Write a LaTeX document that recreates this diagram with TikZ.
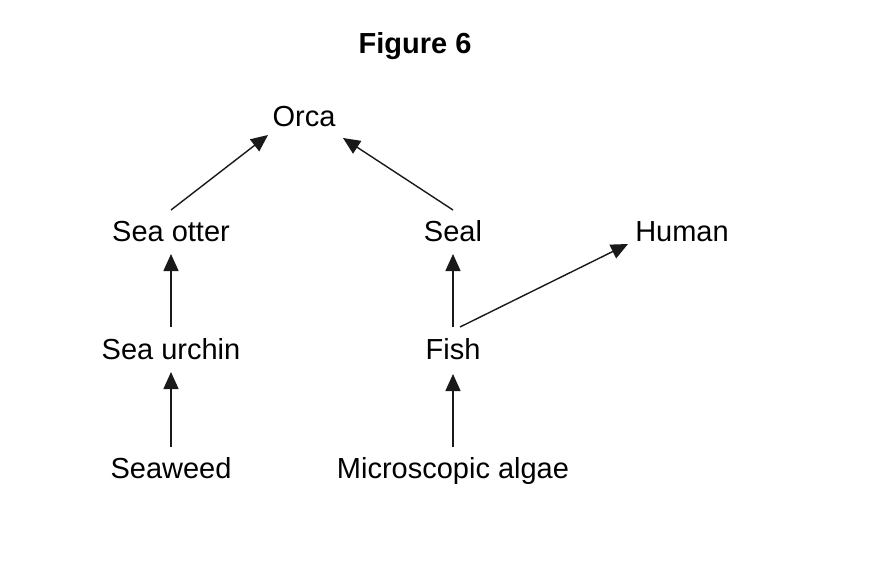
\documentclass[tikz,border=0pt]{standalone}
\usepackage{fontspec}
\setmainfont{Liberation Sans}
\usetikzlibrary{arrows.meta,calc}
\begin{document}
\begin{tikzpicture}[x=1pt,y=-1pt,
  lbl/.style={anchor=base,inner sep=0pt,font=\fontsize{29}{34}\selectfont},
  ttl/.style={anchor=base,inner sep=0pt,font=\fontsize{29}{34}\selectfont\bfseries},
  arr/.style={-{Triangle[length=17pt,width=15pt]},line width=1.4pt,black!90}]
\useasboundingbox (0,0) rectangle (876,586);
\node[ttl] (title) at (415,54) {Figure 6};
\node[lbl] (orca) at (304,126) {Orca};
\node[lbl] (otter) at (171,241) {Sea otter};
\node[lbl] (seal) at (453,241) {Seal};
\node[lbl] (human) at (682,241) {Human};
\node[lbl] (urchin) at (171,359) {Sea urchin};
\node[lbl] (fish) at (453,359) {Fish};
\node[lbl] (seaweed) at (171,478) {Seaweed};
\node[lbl] (algae) at (453,478) {Microscopic algae};
\draw[arr] ($(otter.base)+(0,-31)$) -- ($(orca.base)+(-36,9)$);
\draw[arr] ($(seal.base)+(0,-31)$) -- ($(orca.base)+(39,12)$);
\draw[arr] ($(urchin.base)+(0,-32)$) -- ($(otter.base)+(0,13)$);
\draw[arr] ($(fish.base)+(0,-32)$) -- ($(seal.base)+(0,13)$);
\draw[arr] ($(fish.base)+(7,-32)$) -- ($(human.base)+(-54,3)$);
\draw[arr] ($(seaweed.base)+(0,-31)$) -- ($(urchin.base)+(0,13)$);
\draw[arr] ($(algae.base)+(0,-31)$) -- ($(algae.base)+(0,-104)$);
\end{tikzpicture}
\end{document}
